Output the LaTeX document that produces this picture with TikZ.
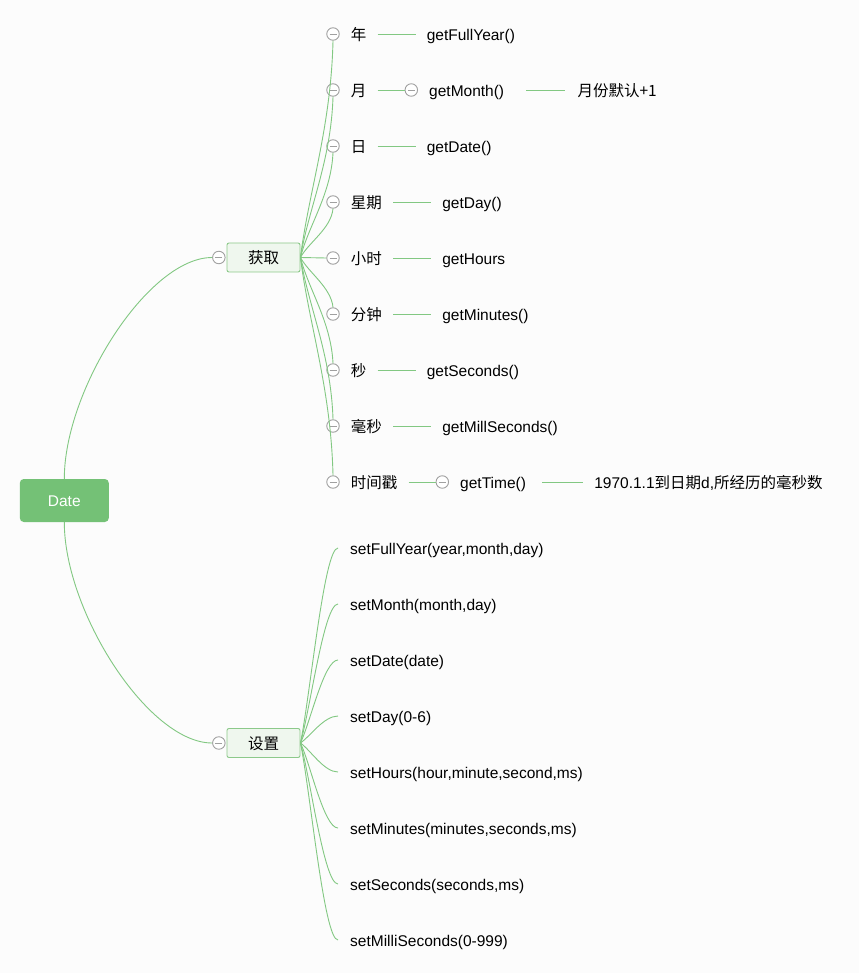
\documentclass[tikz,border=0pt]{standalone}
\usepackage{fontspec}
\setmainfont{Liberation Sans}
\newfontfamily\cjk{Noto Sans CJK SC}
\usetikzlibrary{positioning}
\definecolor{linegreen}{HTML}{82C882}
\definecolor{rootgreen}{HTML}{74C176}
\definecolor{topicfill}{HTML}{EFF7EE}
\definecolor{topicline}{HTML}{8CC98A}
\definecolor{foldgray}{HTML}{A0A0A0}
\definecolor{bgcol}{HTML}{FCFCFC}

\begin{document}
\begin{tikzpicture}[x=1pt, y=-1pt,
    every node/.style={inner sep=0pt, text height=13pt, text depth=0.5pt, font=\fontsize{15.5}{18}\selectfont},
    zh/.style={font=\cjk\fontsize{15.5}{18}\selectfont},
    root/.style={fill=rootgreen, rounded corners=4pt, minimum width=89pt, minimum height=43pt, text=white},
    topic/.style={zh, draw=topicline, fill=topicfill, line width=0.9pt, rounded corners=2pt, minimum width=73pt, minimum height=29pt},
    fold/.style={circle, draw=foldgray, fill=white, line width=0.9pt, minimum size=12.5pt, text height=0pt, text depth=0pt,
      path picture={\draw[foldgray, line width=0.9pt] ([xshift=-3.5pt]path picture bounding box.center) -- ([xshift=3.5pt]path picture bounding box.center);}},
    link/.style={draw=linegreen, line width=0.9pt}
  ]
  \fill[bgcol] (0,0) rectangle (859,973);
  \useasboundingbox (0,0) rectangle (859,973);

  % Root and topics
  \node[root] (date) at (64.3,500.5) {Date};
  \node[topic] (get) at (263.5,257.5) {获取};
  \node[fold, left=1pt of get] (gfold) {};
  \node[topic] (set) at (263.5,743) {设置};
  \node[fold, left=1pt of set] (sfold) {};

  % Getters
  \node[fold] (c1) at (333,34) {};
  \node[fold] (c2) at (333,90) {};
  \node[fold] (c3) at (333,146) {};
  \node[fold] (c4) at (333,202) {};
  \node[fold] (c5) at (333,258) {};
  \node[fold] (c6) at (333,314) {};
  \node[fold] (c7) at (333,370) {};
  \node[fold] (c8) at (333,426) {};
  \node[fold] (c9) at (333,482) {};

  \node[zh, right=11pt of c1] (l1) {年};
  \node[zh, right=11pt of c2] (l2) {月};
  \node[zh, right=11pt of c3] (l3) {日};
  \node[zh, right=11pt of c4] (l4) {星期};
  \node[zh, right=11pt of c5] (l5) {小时};
  \node[zh, right=11pt of c6] (l6) {分钟};
  \node[zh, right=11pt of c7] (l7) {秒};
  \node[zh, right=11pt of c8] (l8) {毫秒};
  \node[zh, right=11pt of c9] (l9) {时间戳};

  \node[right=60pt of l1] (f1) {getFullYear()};
  \node[fold, right=38pt of l2] (m2) {};
  \node[right=11pt of m2] (f2) {getMonth()};
  \node[zh, right=73pt of f2] (n2) {月份默认+1};
  \node[right=60pt of l3] (f3) {getDate()};
  \node[right=60pt of l4] (f4) {getDay()};
  \node[right=60pt of l5] (f5) {getHours};
  \node[right=60pt of l6] (f6) {getMinutes()};
  \node[right=60pt of l7] (f7) {getSeconds()};
  \node[right=60pt of l8] (f8) {getMillSeconds()};
  \node[fold, right=38pt of l9] (m9) {};
  \node[right=11pt of m9] (f9) {getTime()};
  \node[right=68pt of f9] (n9) {1970.1.1{\cjk 到日期}d,{\cjk 所经历的毫秒数}};

  % Setters
  \node[anchor=west] (s1) at (350,548) {setFullYear(year,month,day)};
  \node[anchor=west] (s2) at (350,604) {setMonth(month,day)};
  \node[anchor=west] (s3) at (350,660) {setDate(date)};
  \node[anchor=west] (s4) at (350,716) {setDay(0-6)};
  \node[anchor=west] (s5) at (350,772) {setHours(hour,minute,second,ms)};
  \node[anchor=west] (s6) at (350,828) {setMinutes(minutes,seconds,ms)};
  \node[anchor=west] (s7) at (350,884) {setSeconds(seconds,ms)};
  \node[anchor=west] (s8) at (350,940) {setMilliSeconds(0-999)};

  % Branches
  \draw[link] (date.north) .. controls +(0,-89) and +(-64,0) .. (gfold.west);
  \draw[link] (date.south) .. controls +(0,89) and +(-64,0) .. (sfold.west);
  \foreach \i/\a/\b in {1/65/87, 2/49/65, 3/32/42, 4/15/20}
    \draw[link] (get.east) .. controls +(8,-\a) and +(-2,\b) .. (c\i.south);
  \draw[link] (get.east) -- (c5.west);
  \foreach \i/\a/\b in {6/15/20, 7/32/42, 8/49/65, 9/65/87}
    \draw[link] (get.east) .. controls +(8,\a) and +(-2,-\b) .. (c\i.north);
  \foreach \i/\a in {1/-49, 2/-35, 3/-21, 4/-7, 5/7, 6/21, 7/35, 8/49}
    \draw[link] (set.east) .. controls +(10,\a) and +(-14,0) .. ([xshift=-12pt]s\i.west);

  % Leaf lines
  \foreach \i in {1,3,4,5,6,7,8}
    \draw[link, shorten <=11pt, shorten >=11pt] (l\i.east) -- (f\i.west);
  \draw[link, shorten <=11pt] (l2.east) -- (m2.west);
  \draw[link, shorten <=22pt, shorten >=12pt] (f2.east) -- (n2.west);
  \draw[link, shorten <=11pt] (l9.east) -- (m9.west);
  \draw[link, shorten <=16pt, shorten >=11pt] (f9.east) -- (n9.west);
\end{tikzpicture}
\end{document}
